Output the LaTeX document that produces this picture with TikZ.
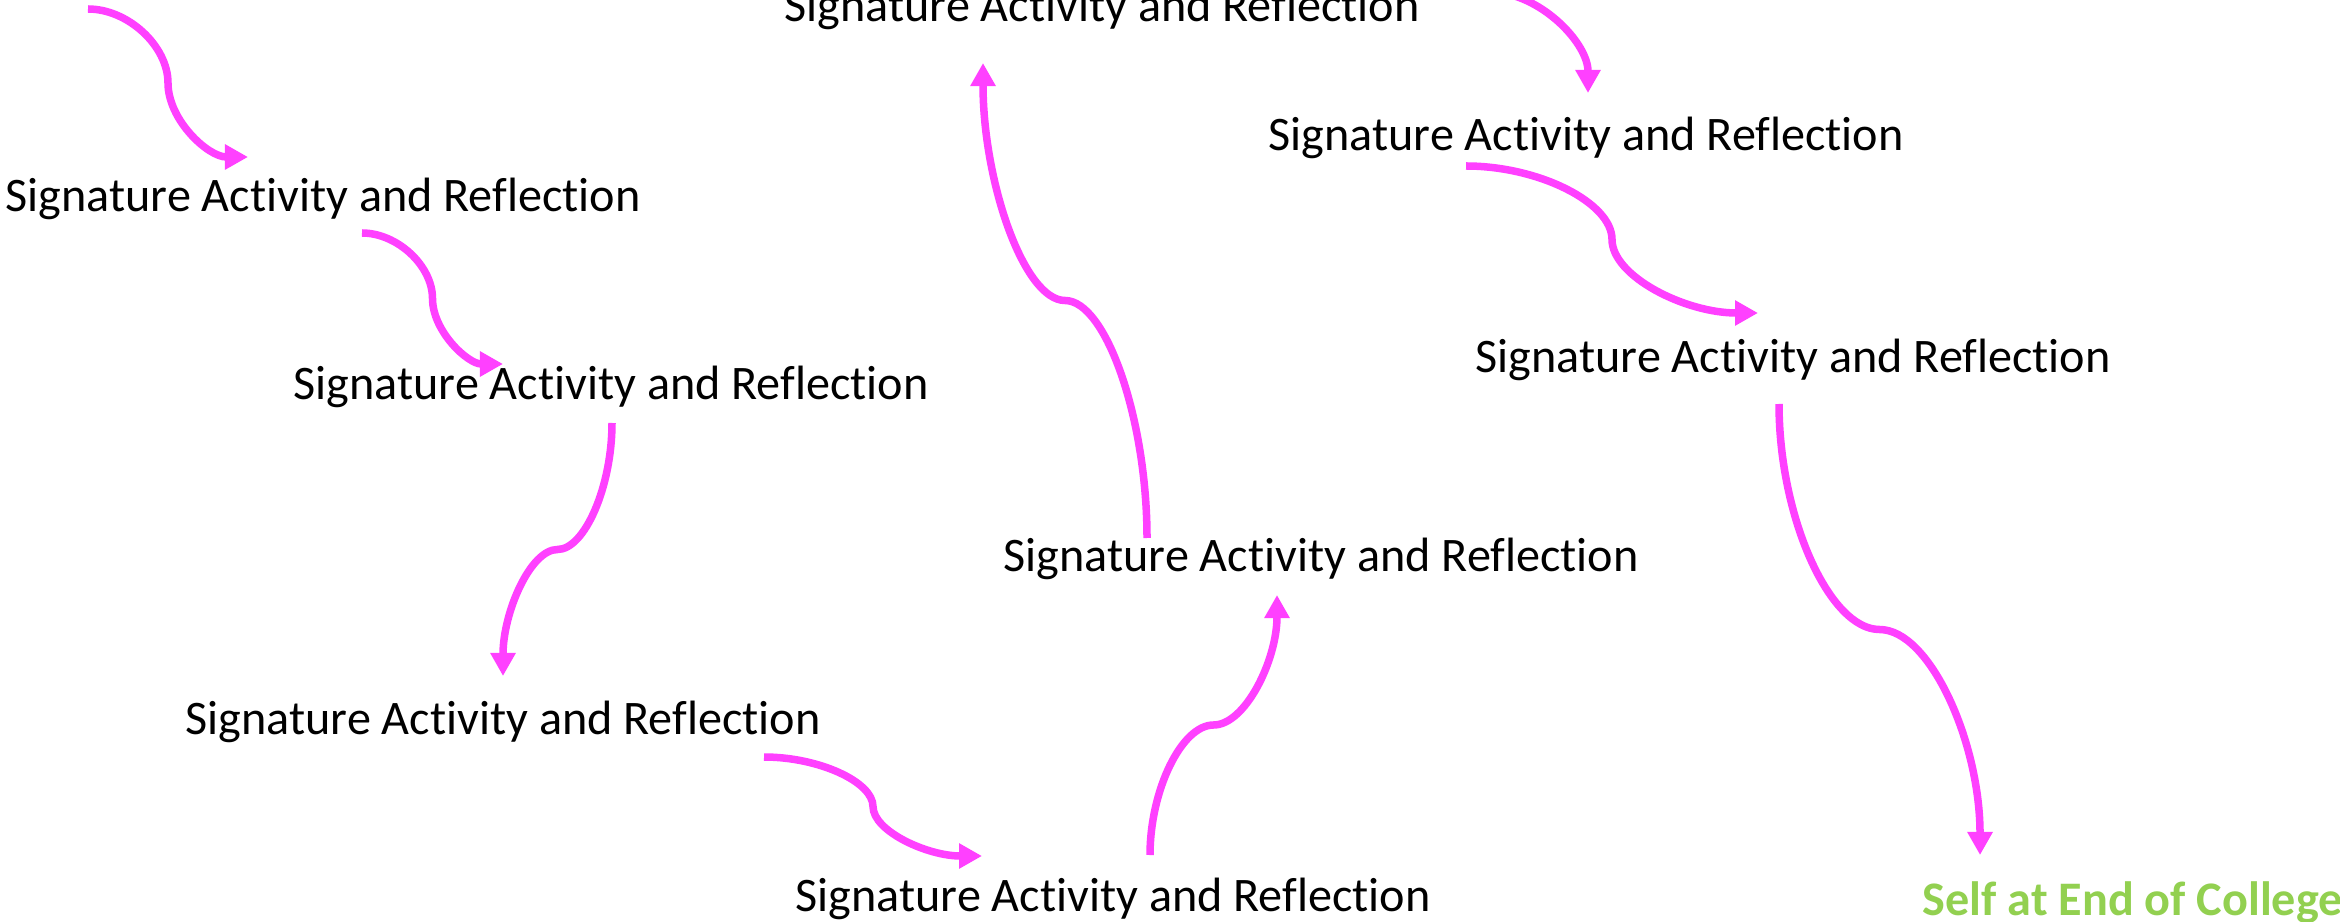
\documentclass[tikz,border=0pt]{standalone}
\usepackage{fontspec}
\setmainfont{Carlito}[Ligatures={NoCommon}]
\usetikzlibrary{arrows.meta,calc}
\definecolor{pinkline}{RGB}{255,64,255}
\definecolor{endgreen}{RGB}{146,208,80}
\tikzset{
  sig/.style={anchor=base west, inner sep=0pt, font=\fontsize{13.7}{16}\selectfont, text=black},
  goal/.style={anchor=base west, inner sep=0pt, font=\fontsize{13.7}{16}\selectfont\bfseries, text=endgreen},
  conn/.style={draw=pinkline, line width=0.075cm, -{Triangle[width=0.24cm,length=0.23cm]}},
  hconn/.style={conn, to path={let \p1=(\tikztostart), \p2=(\tikztotarget) in
     .. controls ({0.75*\x1+0.25*\x2},\y1) and ({0.5*\x1+0.5*\x2},{0.75*\y1+0.25*\y2}) .. ({0.5*\x1+0.5*\x2},{0.5*\y1+0.5*\y2})
     .. controls ({0.5*\x1+0.5*\x2},{0.25*\y1+0.75*\y2}) and ({0.25*\x1+0.75*\x2},\y2) .. (\tikztotarget)}},
  vconn/.style={conn, to path={let \p1=(\tikztostart), \p2=(\tikztotarget) in
     .. controls (\x1,{0.75*\y1+0.25*\y2}) and ({0.75*\x1+0.25*\x2},{0.5*\y1+0.5*\y2}) .. ({0.5*\x1+0.5*\x2},{0.5*\y1+0.5*\y2})
     .. controls ({0.25*\x1+0.75*\x2},{0.5*\y1+0.5*\y2}) and (\x2,{0.25*\y1+0.75*\y2}) .. (\tikztotarget)}}
}
\begin{document}
\begin{tikzpicture}[x=0.01cm,y=-0.01cm]
\useasboundingbox (0,0) rectangle (2340,922);
\clip (0,0) rectangle (2340,922);
\fill[white] (0,0) rectangle (2340,922);
% text nodes
\node[sig] (T1) at (784,22) {Signature Activity and Reflection};
\node[sig] (T2) at (1268,151) {Signature Activity and Reflection};
\node[sig] (T3) at (5,212) {Signature Activity and Reflection};
\node[sig] (T4) at (1475,373) {Signature Activity and Reflection};
\node[sig] (T5) at (293,400) {Signature Activity and Reflection};
\node[sig] (T6) at (1003,571) {Signature Activity and Reflection};
\node[sig] (T7) at (185,734) {Signature Activity and Reflection};
\node[sig] (T8) at (795,911) {Signature Activity and Reflection};
\node[goal] (T9) at (1922,915) {Self at End of College};
% free ends
\coordinate (A1s) at (88,9);
\coordinate (A7s) at (1392,-109);
% connectors
\draw[hconn] (A1s) to ([shift={(243,-55)}]T3.base west);
\draw[hconn] ([shift={(357,21)}]T3.base west) to ([shift={(210,-36)}]T5.base west);
\draw[vconn] ([shift={(319,23)}]T5.base west) to ([shift={(318,-58)}]T7.base west);
\draw[hconn] ([shift={(579,23)}]T7.base west) to ([shift={(187,-55)}]T8.base west);
\draw[vconn] ([shift={(355,-56)}]T8.base west) to ([shift={(274,24)}]T6.base west);
\draw[vconn] ([shift={(144,-33)}]T6.base west) to ([shift={(199,41)}]T1.base west);
\draw[vconn] (A7s) to ([shift={(320,-58)}]T2.base west);
\draw[hconn] ([shift={(198,15)}]T2.base west) to ([shift={(283,-60)}]T4.base west);
\draw[vconn] ([shift={(304,31)}]T4.base west) to ([shift={(58,-60)}]T9.base west);
\end{tikzpicture}
\end{document}
